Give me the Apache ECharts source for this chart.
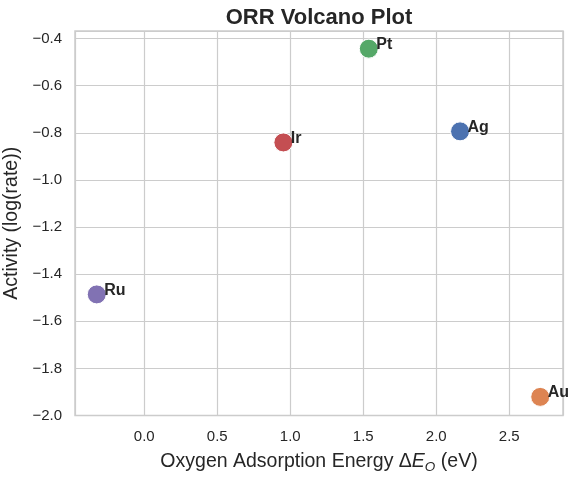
<!DOCTYPE html>
<html>
<head>
<meta charset="utf-8">
<script src="https://cdn.jsdelivr.net/npm/echarts@6/dist/echarts.min.js"></script>
<style>html,body{margin:0;padding:0;background:#fff;}#c{width:585px;height:478px;}</style>
</head>
<body>
<div id="c"></div>
<script>
const metals = ['Ag', 'Au', 'Pt', 'Ir', 'Ru'];
const adsorptionEnergy = [2.163, 2.712, 1.538, 0.953, -0.325];
const activity = [-0.794, -1.921, -0.443, -0.841, -1.486];
const palette = ['#4C72B0', '#DD8452', '#55A868', '#C44E52', '#8172B3'];

const FONT = '"Liberation Sans", Arial, sans-serif';
const TXT = '#262626';
const fmt = v => (v < 0 ? '\u2212' : '') + Math.abs(v).toFixed(1);

const chart = echarts.init(document.getElementById('c'), null, {renderer: 'canvas'});
chart.setOption({
  backgroundColor: '#fff',
  animation: false,
  textStyle: {fontFamily: FONT},
  title: {
    text: 'ORR Volcano Plot',
    left: 314, top: 2, textAlign: 'center',
    textStyle: {fontFamily: FONT, fontSize: 22, fontWeight: 'bold', color: TXT}
  },
  grid: {left: 75, right: 22, top: 31, bottom: 62.5, show: true, borderColor: '#cccccc', borderWidth: 1.5, containLabel: false, outerBoundsMode: 'none'},
  xAxis: {
    type: 'value', min: -0.474, max: 2.868, splitNumber: 7,
    axisLine: {show: false}, axisTick: {show: false},
    splitLine: {show: true, lineStyle: {color: '#cccccc', width: 1.2}},
    axisLabel: {showMinLabel: false, showMaxLabel: false, formatter: fmt, color: TXT, fontSize: 15, margin: 14, fontFamily: FONT},
    name: '{n|Oxygen Adsorption Energy \u0394}{i|E}{s|O}{n| (eV)}',
    nameLocation: 'middle', nameGap: 35,
    nameTextStyle: {
      rich: {
        n: {fontSize: 19.5, color: TXT, fontFamily: FONT, lineHeight: 23},
        i: {fontSize: 19.5, color: TXT, fontFamily: FONT, fontStyle: 'italic', lineHeight: 23},
        s: {fontSize: 13.5, color: TXT, fontFamily: FONT, fontStyle: 'italic', lineHeight: 23, padding: [10, 0, 0, 0]}
      }
    }
  },
  yAxis: {
    type: 'value', min: -2.0, max: -0.368, splitNumber: 8,
    axisLine: {show: false}, axisTick: {show: false},
    splitLine: {show: true, lineStyle: {color: '#cccccc', width: 1.2}},
    axisLabel: {showMaxLabel: false, formatter: fmt, color: TXT, fontSize: 15, margin: 13, fontFamily: FONT},
    name: 'Activity (log(rate))', nameLocation: 'middle', nameGap: 46,
    nameTextStyle: {fontSize: 19.5, color: TXT, fontFamily: FONT}
  },
  series: metals.map((m, i) => ({
    type: 'scatter',
    name: m,
    symbolSize: 19,
    itemStyle: {color: palette[i], borderColor: '#ffffff', borderWidth: 1, opacity: 1},
    label: {
      show: true, position: 'right', distance: 5, offset: [-7.5, -4],
      formatter: m, fontWeight: 'bold', fontSize: 16, color: TXT, fontFamily: FONT
    },
    data: [[adsorptionEnergy[i], activity[i]]]
  }))
});
</script>
</body>
</html>
